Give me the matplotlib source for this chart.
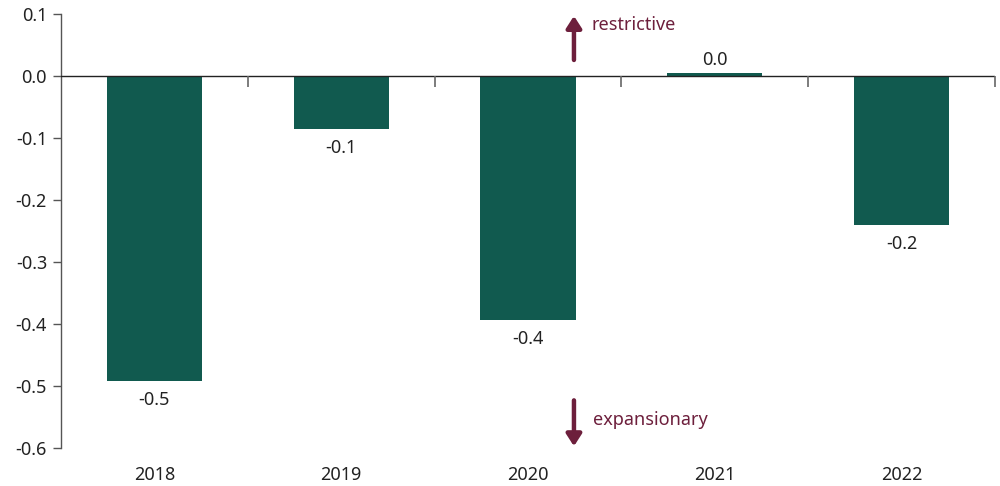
import matplotlib.pyplot as plt

plt.rcParams["font.family"] = ["Noto Sans", "DejaVu Sans"]

years = ["2018", "2019", "2020", "2021", "2022"]
values = [-0.492, -0.085, -0.394, 0.005, -0.240]
labels = ["-0.5", "-0.1", "-0.4", "0.0", "-0.2"]

BAR = "#115a4f"
ARROW = "#6d1f3c"
GREY = "#555555"
FS = 13

fig = plt.figure(figsize=(10, 4.86), dpi=100)
ax = fig.add_axes([0.061, 0.078, 0.934, 0.893])

x = list(range(len(years)))
ax.bar(x, values, width=0.51, color=BAR, zorder=2)

for xi, v, lab in zip(x, values, labels):
    if v < 0:
        ax.annotate(lab, (xi, v), xytext=(0, -7), textcoords="offset points",
                    ha="center", va="top", fontsize=FS, color="#222222")
    else:
        ax.annotate(lab, (xi, v), xytext=(0, 3), textcoords="offset points",
                    ha="center", va="bottom", fontsize=FS, color="#222222")

# zero line with category separators
ax.axhline(0, color="#222222", lw=1, zorder=3)
bounds = [i + 0.5 for i in x]
ax.plot(bounds, [0] * len(bounds), ls="none", marker=3, ms=8,
        mew=1.2, color="#666666", zorder=3, clip_on=False)

ax.set_xlim(-0.5, 4.5)
ax.set_ylim(-0.6, 0.1)
ax.set_yticks([0.1, 0.0, -0.1, -0.2, -0.3, -0.4, -0.5, -0.6])
ax.set_yticklabels(["0.1", "0.0", "-0.1", "-0.2", "-0.3", "-0.4", "-0.5", "-0.6"])
ax.set_xticks(x)
ax.set_xticklabels(years)
ax.tick_params(axis="x", length=0, pad=13, labelsize=FS, labelcolor="#222222")
ax.tick_params(axis="y", length=6, width=1, color=GREY, labelsize=FS,
               labelcolor="#222222", pad=4)

for s in ["top", "right", "bottom"]:
    ax.spines[s].set_visible(False)
ax.spines["left"].set_color(GREY)
ax.spines["left"].set_linewidth(1)

# direction arrows
arrow = dict(arrowstyle="-|>,head_length=0.7,head_width=0.45",
             color=ARROW, lw=3.2, shrinkA=0, shrinkB=0)
ax.annotate("", xy=(2.246, 0.097), xytext=(2.246, 0.026),
            arrowprops=arrow, annotation_clip=False)
ax.text(2.34, 0.082, "restrictive", color=ARROW, fontsize=FS, va="center", ha="left")
ax.annotate("", xy=(2.246, -0.597), xytext=(2.246, -0.523),
            arrowprops=arrow, annotation_clip=False)
ax.text(2.35, -0.555, "expansionary", color=ARROW, fontsize=FS, va="center", ha="left")

fig.savefig("out.png", dpi=100)
